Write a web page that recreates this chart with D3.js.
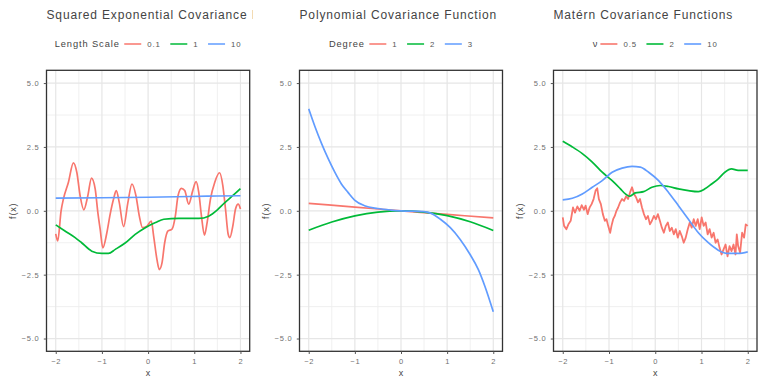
<!DOCTYPE html>
<html>
<head>
<meta charset="utf-8">
<script src="https://cdn.jsdelivr.net/npm/d3@7"></script>
<style>
  body { margin: 0; background: #fff; }
  svg { display: block; font-family: "Liberation Sans", Arial, sans-serif; }
</style>
</head>
<body>
<svg id="chart" width="758" height="377"></svg>
<script>
// titles, legends, ticks
const titles = ['Squared Exponential Covariance Functions', 'Polynomial Covariance Function', 'Matérn Covariance Functions'];
const legendTitles = ['Length Scale', 'Degree', 'ν'];
const legendLabels = [['0.1', '1', '10'], ['1', '2', '3'], ['0.5', '2', '10']];
const xTicks = [-2, -1, 0, 1, 2];
const yTicks = [-5, -2.5, 0, 2.5, 5];
const colors = ['#F8766D', '#00BA38', '#619CFF'];

// squared exponential, length scale 0.1 / 1 / 10
const seX01 = [-2.0, -1.957, -1.884, -1.834, -1.725, -1.617, -1.544, -1.472, -1.392, -1.305, -1.226, -1.146, -1.088, -1.038, -0.980,
  -0.893, -0.821, -0.748, -0.690, -0.625, -0.531, -0.437, -0.350, -0.263, -0.191, -0.119, -0.025, 0.069, 0.120, 0.192, 0.243,
  0.301, 0.359, 0.431, 0.518, 0.590, 0.648, 0.721, 0.793, 0.880, 0.967, 1.039, 1.097, 1.155, 1.220, 1.278, 1.350, 1.444, 1.546,
  1.618, 1.676, 1.734, 1.770, 1.835, 1.893, 1.951, 2.0];
const seY01 = [-0.9, -1.18, 0.0, 0.46, 1.12, 1.88, 1.51, 0.59, 0.04, 0.59, 1.28, 0.86, -0.07, -0.72, -1.45,
  -0.86, -0.13, 0.46, 0.79, 0.33, -0.62, 0.33, 1.05, 0.59, -0.2, -0.66, -0.6, -0.4, -0.99, -1.91, -2.3,
  -2.04, -1.25, -0.79, -0.72, -0.2, 0.59, 0.88, 0.79, 0.26, 0.79, 1.14, 0.72, -0.2, -0.95, -0.46, 0.46, 1.12, 1.49,
  0.99, 0.07, -0.92, -1.05, -0.59, 0.07, 0.26, 0.07];
const seX1 = [-2.0, -1.8, -1.58, -1.44, -1.22, -1.0, -0.86, -0.71, -0.49, -0.28, -0.06, 0.16, 0.34, 0.66, 1.10, 1.31, 1.5, 1.65, 1.85, 2.0];
const seY1 = [-0.55, -0.79, -1.05, -1.25, -1.58, -1.67, -1.67, -1.51, -1.25, -0.92, -0.66, -0.46, -0.33, -0.30, -0.30, -0.21, 0.04, 0.3, 0.62, 0.87];
const seX10 = [-2.0, -1.0, 0.0, 0.9, 1.5, 2.0];
const seY10 = [0.50, 0.51, 0.53, 0.56, 0.58, 0.59];

// polynomial, degree 1 / 2 / 3
const polyX1 = [-2, -1, 0, 1, 2];
const polyY1 = [0.29, 0.145, 0, -0.14, -0.28];
const polyX2 = [-2, -1.5, -1, -0.5, 0, 0.5, 1, 1.5, 2];
const polyY2 = [-0.76, -0.44, -0.2, -0.05, 0, -0.05, -0.19, -0.43, -0.77];
const polyX3 = [-2.0, -1.864, -1.721, -1.578, -1.435, -1.292, -1.149, -1.006, -0.791, -0.505, -0.219, 0.0, 0.497, 0.640, 0.854,
  1.069, 1.283, 1.498, 1.677, 1.820, 2.0];
const polyY3 = [3.99, 3.29, 2.63, 2.04, 1.51, 1.05, 0.72, 0.42, 0.20, 0.09, 0.03, 0.0, -0.03, -0.09, -0.33,
  -0.66, -1.12, -1.71, -2.30, -2.96, -3.95];

// matern, nu 0.5 / 2 / 10
const matX05 = [-2.0, -1.971, -1.921, -1.878, -1.828, -1.778, -1.735, -1.685, -1.634, -1.591, -1.541, -1.505, -1.462, -1.419,
  -1.376, -1.333, -1.290, -1.254, -1.219, -1.176, -1.133, -1.090, -1.054, -1.018, -0.975, -0.946, -0.910, -0.875, -0.839,
  -0.803, -0.760, -0.717, -0.674, -0.631, -0.588, -0.545, -0.502, -0.459, -0.416, -0.373, -0.330, -0.287, -0.244, -0.201,
  -0.158, -0.115, -0.072, -0.029, 0.014, 0.057, 0.100, 0.143, 0.186, 0.229, 0.272, 0.315, 0.358, 0.401, 0.444, 0.487,
  0.530, 0.573, 0.616, 0.659, 0.703, 0.746, 0.789, 0.832, 0.875, 0.918, 0.961, 1.004, 1.047, 1.090, 1.133, 1.176, 1.219,
  1.262, 1.305, 1.348, 1.391, 1.434, 1.477, 1.520, 1.563, 1.606, 1.649, 1.692, 1.735, 1.763, 1.792, 1.835, 1.878, 1.921,
  1.957, 2.0];
const matY05 = [-0.26, -0.59, -0.72, -0.53, -0.39, 0.13, -0.07, 0.17, 0.0, 0.22, 0.04, 0.2, -0.13, 0.13,
  0.26, 0.46, 0.79, 0.88, 0.46, 0.26, -0.13, -0.39, -0.33, -0.59, -0.86, -0.59, -0.33, -0.2, 0.0,
  0.13, 0.33, 0.46, 0.39, 0.57, 0.46, 0.72, 0.92, 0.66, 0.53, 0.33, 0.46, 0.13, -0.13, -0.33,
  -0.2, -0.53, -0.39, -0.2, -0.33, -0.13, -0.39, -0.66, -0.86, -0.59, -0.46, -0.79, -0.66, -0.92, -0.72, -1.05,
  -0.79, -0.99, -1.25, -1.05, -0.72, -0.46, -0.66, -0.33, -0.59, -0.33, -0.72, -0.26, -0.59, -0.46, -0.92, -0.72, -1.05,
  -0.86, -1.25, -1.12, -1.45, -1.71, -1.51, -1.32, -1.78, -1.38, -1.58, -1.32, -1.71, -0.92, -1.38, -1.64, -0.86, -1.05,
  -0.53, -0.59];
const matX2 = [-2.0, -1.792, -1.577, -1.362, -1.147, -0.932, -0.753, -0.645, -0.559, -0.430, -0.251, -0.072, 0.108, 0.287,
  0.502, 0.717, 0.932, 1.075, 1.219, 1.362, 1.505, 1.649, 1.792, 2.0];
const matY2 = [2.72, 2.50, 2.24, 1.91, 1.51, 1.18, 0.86, 0.66, 0.57, 0.70, 0.75, 0.92, 0.99, 0.95,
  0.86, 0.79, 0.75, 0.86, 1.05, 1.25, 1.51, 1.64, 1.58, 1.58];
const matX10 = [-2.0, -1.792, -1.577, -1.362, -1.147, -0.932, -0.717, -0.502, -0.323, -0.143, 0.072, 0.287, 0.502, 0.717,
  0.932, 1.147, 1.362, 1.577, 1.792, 2.0];
const matY10 = [0.43, 0.49, 0.66, 0.92, 1.18, 1.51, 1.67, 1.74, 1.71, 1.51, 1.18, 0.72, 0.20, -0.33,
  -0.86, -1.25, -1.54, -1.67, -1.67, -1.61];

const panelSeries = [
  [[seX01, seY01], [seX1, seY1], [seX10, seY10]],
  [[polyX1, polyY1], [polyX2, polyY2], [polyX3, polyY3]],
  [[matX05, matY05], [matX2, matY2], [matX10, matY10]]
];

const W = 758, H = 377;
const cellW = W / 3;
const plotTop = 70.3, plotBottom = 351.3;
const boxes = [
  { left: 46.5, right: 249.7 },
  { left: 299.5, right: 502.5 },
  { left: 553.5, right: 757 }
];

const svg = d3.select('#chart');
const defs = svg.append('defs');

function midpoints(t) {
  const m = [];
  for (let i = 0; i < t.length - 1; i++) m.push((t[i] + t[i + 1]) / 2);
  return m;
}

boxes.forEach((b, i) => {
  defs.append('clipPath').attr('id', 'cell' + i)
    .append('rect').attr('x', i * cellW).attr('y', 0).attr('width', cellW).attr('height', H);

  const g = svg.append('g').attr('clip-path', 'url(#cell' + i + ')');

  const x = d3.scaleLinear().domain([-2.2, 2.2]).range([b.left, b.right]);
  const y = d3.scaleLinear().domain([-5.5, 5.5]).range([plotBottom, plotTop]);

  // minor grid
  g.append('g').selectAll('line').data(midpoints(xTicks)).enter().append('line')
    .attr('x1', d => x(d)).attr('x2', d => x(d)).attr('y1', plotTop).attr('y2', plotBottom)
    .attr('stroke', '#eeeeee').attr('stroke-width', 0.9);
  g.append('g').selectAll('line').data(midpoints(yTicks)).enter().append('line')
    .attr('y1', d => y(d)).attr('y2', d => y(d)).attr('x1', b.left).attr('x2', b.right)
    .attr('stroke', '#eeeeee').attr('stroke-width', 0.9);
  // major grid
  g.append('g').selectAll('line').data(xTicks).enter().append('line')
    .attr('x1', d => x(d)).attr('x2', d => x(d)).attr('y1', plotTop).attr('y2', plotBottom)
    .attr('stroke', '#e6e6e6').attr('stroke-width', 1.2);
  g.append('g').selectAll('line').data(yTicks).enter().append('line')
    .attr('y1', d => y(d)).attr('y2', d => y(d)).attr('x1', b.left).attr('x2', b.right)
    .attr('stroke', '#e6e6e6').attr('stroke-width', 1.2);

  // series
  panelSeries[i].forEach((s, k) => {
    const pts = s[0].map((xv, j) => [xv, s[1][j]]);
    const rough = (i === 2 && k === 0);
    const line = d3.line()
      .x(d => x(d[0]))
      .y(d => y(d[1]))
      .curve(rough ? d3.curveLinear : d3.curveMonotoneX);
    g.append('path')
      .attr('d', line(pts))
      .attr('fill', 'none')
      .attr('stroke', colors[k])
      .attr('stroke-width', rough ? 1.8 : 1.7)
      .attr('stroke-linejoin', 'round');
  });

  // border
  g.append('rect')
    .attr('x', b.left).attr('y', plotTop)
    .attr('width', b.right - b.left).attr('height', plotBottom - plotTop)
    .attr('fill', 'none').attr('stroke', '#333').attr('stroke-width', 1.3);

  // axes
  const yAxis = g.append('g')
    .attr('transform', 'translate(' + b.left + ',0)')
    .call(d3.axisLeft(y).tickValues(yTicks).tickSize(2.7).tickPadding(4.3).tickFormat(d3.format('.1f')));
  const xAxis = g.append('g')
    .attr('transform', 'translate(0,' + plotBottom + ')')
    .call(d3.axisBottom(x).tickValues(xTicks).tickSize(2.7).tickPadding(5).tickFormat(d3.format('d')));
  [xAxis, yAxis].forEach(a => {
    a.select('.domain').remove();
    a.selectAll('line').attr('stroke', '#555');
    a.selectAll('text')
      .attr('fill', '#707070')
      .style('font-size', '7.5px')
      .style('letter-spacing', '0.8px')
      .style('font-family', '"Liberation Sans", Arial, sans-serif');
  });

  // axis titles
  g.append('text')
    .attr('x', (b.left + b.right) / 2).attr('y', 376)
    .attr('text-anchor', 'middle')
    .attr('fill', '#444').style('font-size', '9px')
    .text('x');
  g.append('text')
    .attr('transform', 'translate(' + (b.left - 33.5) + ',' + ((plotTop + plotBottom) / 2) + ') rotate(-90)')
    .attr('text-anchor', 'middle').attr('dy', '0.35em')
    .attr('fill', '#444').style('font-size', '9px').style('letter-spacing', '0.8px')
    .text('f(x)');

  // title
  g.append('text')
    .attr('x', b.left).attr('y', 18.5)
    .attr('fill', '#444')
    .style('font-size', '12px').style('letter-spacing', '0.85px')
    .text(titles[i]);

  // legend
  const lg = g.append('g');
  let cx = 0;
  const lt = lg.append('text').attr('x', cx).attr('y', 46.7)
    .attr('fill', '#444').style('font-size', '9.3px').style('letter-spacing', '0.9px')
    .text(legendTitles[i]);
  cx += lt.node().getBBox().width + (i === 2 ? 2 : 4.5);
  legendLabels[i].forEach((lab, k) => {
    lg.append('line')
      .attr('x1', cx).attr('x2', cx + 17).attr('y1', 44).attr('y2', 44)
      .attr('stroke', colors[k]).attr('stroke-width', 1.6);
    cx += 17 + 6;
    const t = lg.append('text').attr('x', cx).attr('y', 46.7)
      .attr('fill', '#555').style('font-size', '7.8px').style('letter-spacing', '0.9px')
      .text(lab);
    cx += t.node().getBBox().width + (k < 2 ? 9.5 : 0);
  });
  lg.attr('transform', 'translate(' + ((b.left + b.right) / 2 - cx / 2) + ',0)');
});
</script>
</body>
</html>
